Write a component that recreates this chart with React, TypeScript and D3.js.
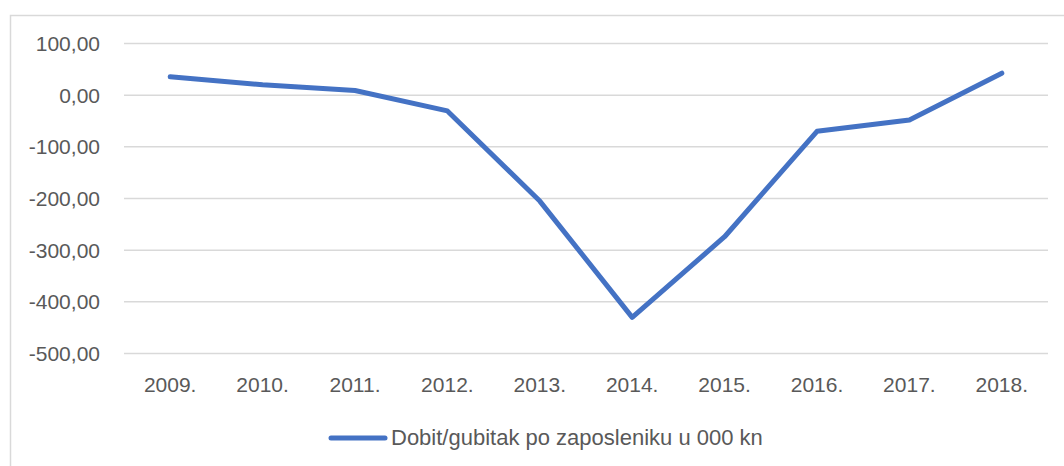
import React, { useEffect, useRef } from "react";
import * as d3 from "d3";

const years = ["2009.", "2010.", "2011.", "2012.", "2013.", "2014.", "2015.", "2016.", "2017.", "2018."];
const profitPerEmployee = [35.5, 20, 9, -30.5, -205, -430, -274, -70, -48, 42.5];
const yTicks = [100, 0, -100, -200, -300, -400, -500];
const seriesName = "Dobit/gubitak po zaposleniku u 000 kn";

const W = 1064;
const H = 466;
const FONT = "'Liberation Sans', Arial, sans-serif";

export default function App() {
  const ref = useRef<SVGSVGElement>(null);

  useEffect(() => {
    const svg = d3.select(ref.current);
    svg.selectAll("*").remove();

    const margin = { left: 124, right: 16, top: 43.5, bottom: 112.5 };

    // chart frame
    svg
      .append("rect")
      .attr("x", 10.5)
      .attr("y", 15.5)
      .attr("width", 1200)
      .attr("height", 600)
      .attr("fill", "white")
      .attr("stroke", "#d9d9d9")
      .attr("stroke-width", 1.5);

    const x = d3
      .scaleBand()
      .domain(years)
      .range([margin.left, W - margin.right]);

    const y = d3
      .scaleLinear()
      .domain([-500, 100])
      .range([H - margin.bottom, margin.top]);

    // gridlines
    svg
      .append("g")
      .selectAll("line")
      .data(yTicks)
      .join("line")
      .attr("x1", margin.left)
      .attr("x2", W - margin.right)
      .attr("y1", (d) => y(d))
      .attr("y2", (d) => y(d))
      .attr("stroke", "#d9d9d9")
      .attr("stroke-width", 1.5);

    const fmt = (v: number) => v.toFixed(2).replace(".", ",");

    // y labels
    svg
      .append("g")
      .selectAll("text")
      .data(yTicks)
      .join("text")
      .attr("x", 100)
      .attr("y", (d) => y(d))
      .attr("dy", "0.35em")
      .attr("text-anchor", "end")
      .attr("font-family", FONT)
      .attr("font-size", 21)
      .attr("fill", "#595959")
      .text((d) => fmt(d));

    // x labels
    svg
      .append("g")
      .selectAll("text")
      .data(years)
      .join("text")
      .attr("x", (d) => x(d)! + x.bandwidth() / 2)
      .attr("y", 392)
      .attr("text-anchor", "middle")
      .attr("font-family", FONT)
      .attr("font-size", 21)
      .attr("fill", "#595959")
      .text((d) => d);

    const line = d3
      .line<number>()
      .x((_, i) => x(years[i])! + x.bandwidth() / 2)
      .y((d) => y(d));

    svg
      .append("path")
      .datum(profitPerEmployee)
      .attr("d", line)
      .attr("fill", "none")
      .attr("stroke", "#4472c4")
      .attr("stroke-width", 5)
      .attr("stroke-linejoin", "round")
      .attr("stroke-linecap", "round");

    // legend
    const lg = svg.append("g");
    lg.append("line")
      .attr("x1", 331)
      .attr("x2", 385)
      .attr("y1", 438)
      .attr("y2", 438)
      .attr("stroke", "#4472c4")
      .attr("stroke-width", 5)
      .attr("stroke-linecap", "round");
    lg.append("text")
      .attr("x", 391)
      .attr("y", 445)
      .attr("font-family", FONT)
      .attr("font-size", 22)
      .attr("fill", "#595959")
      .text(seriesName);
  }, []);

  return (
    <svg
      ref={ref}
      width={W}
      height={H}
      style={{ position: "absolute", left: 0, top: 0, background: "white" }}
    />
  );
}
